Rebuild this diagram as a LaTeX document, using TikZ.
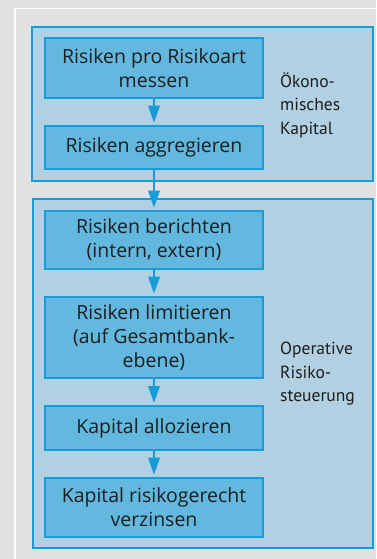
\documentclass[tikz,border=0pt]{standalone}
\usepackage{fontspec}
\setmainfont{Open Sans}
\newfontfamily\labelfont{PT Sans}
\usetikzlibrary{arrows.meta}
\definecolor{bggray}{HTML}{E0E1E3}
\definecolor{outerfill}{HTML}{B1D0E2}
\definecolor{blueline}{HTML}{169CD8}
\definecolor{innerfill}{HTML}{62B8DF}
\definecolor{txt}{HTML}{1E1E1E}
\tikzset{
  groupbox/.style={draw=blueline, fill=outerfill, line width=2pt, minimum width=340.5pt, inner sep=0pt},
  stepbox/.style={draw=blueline, fill=innerfill, line width=2pt, minimum width=218pt, inner sep=0pt,
    text=txt, align=center, font=\fontsize{19.5}{24}\selectfont},
  grouplabel/.style={anchor=west, inner sep=0pt, align=left, text=txt, font=\labelfont\fontsize{17.5}{23.5}\selectfont},
  flow/.style={draw=blueline, line width=2pt, -{Triangle[width=11.5pt, length=17pt]}, shorten >=2pt}
}
\begin{document}
\begin{tikzpicture}[x=1pt, y=-1pt]
\useasboundingbox (0,0) rectangle (376,559);
\begin{scope}
\clip (0,0) rectangle (376,559);
\fill[bggray] (0,0) rectangle (376,559);
\draw[white, line width=1.6pt] (15,600) -- (15,8.5) -- (400,8.5);
\node[groupbox, minimum height=153.7pt] (g1) at (202.5,104.2) {};
\node[groupbox, minimum height=348.7pt] (g2) at (203,373.35) {};
\end{scope}
\node[stepbox, minimum height=59.4pt] (b1) at (154,68) {Risiken pro Risikoart\\messen};
\node[stepbox, minimum height=43.3pt] (b2) at (154,147.35) {Risiken aggregieren};
\node[stepbox, minimum height=58.3pt] (b3) at (154,239.85) {Risiken berichten\\(intern, extern)};
\node[stepbox, minimum height=81.6pt] (b4) at (154,337.5) {Risiken limitieren\\(auf Gesamtbank-\\ebene)};
\node[stepbox, minimum height=44pt] (b5) at (154,428) {Kapital allozieren};
\node[stepbox, minimum height=59pt] (b6) at (154,507.2) {Kapital risikogerecht\\verzinsen};
\node[grouplabel] (l1) at (280,105) {Ökono-\\misches\\Kapital};
\node[grouplabel] (l2) at (280,374) {Operative\\Risiko-\\steuerung};
\draw[flow] (b1) -- (b2);
\draw[flow] (b2) -- (b3);
\draw[flow] (b3) -- (b4);
\draw[flow] (b4) -- (b5);
\draw[flow] (b5) -- (b6);
\end{tikzpicture}
\end{document}
